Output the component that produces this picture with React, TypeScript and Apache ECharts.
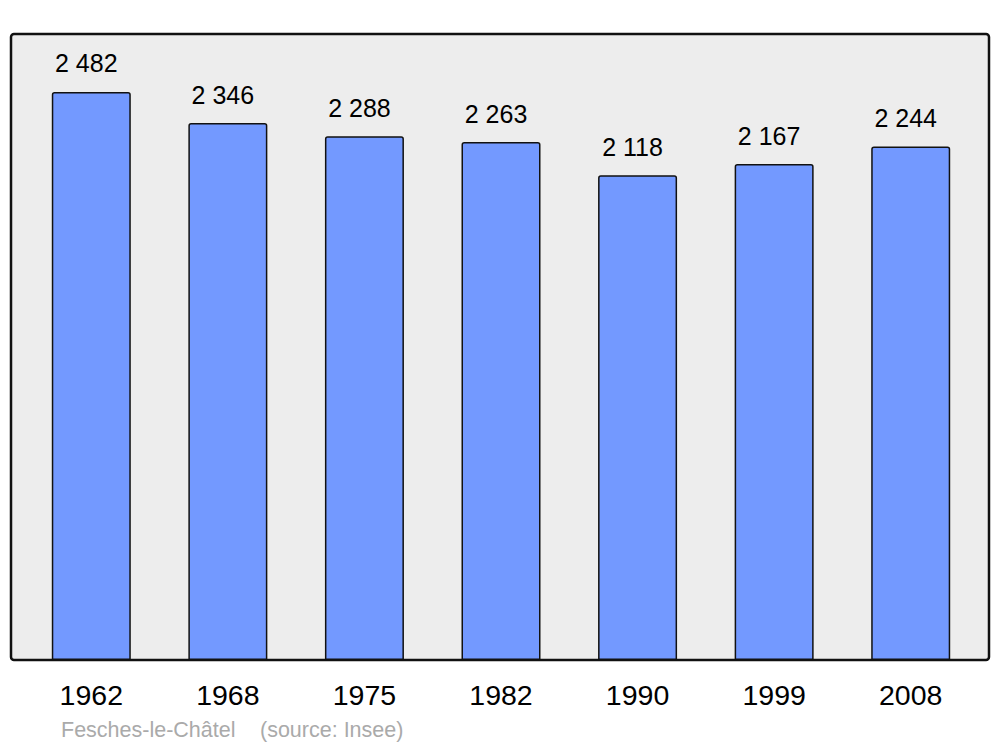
import React, { useEffect, useRef } from "react";
import * as echarts from "echarts";

const years = ["1962", "1968", "1975", "1982", "1990", "1999", "2008"];
const population = [2482, 2346, 2288, 2263, 2118, 2167, 2244];
const footerName = "Fesches-le-Châtel";
const footerSource = "(source: Insee)";

const fmt = (v: number) => {
  const s = String(v);
  return s.replace(/\B(?=(\d{3})+(?!\d))/g, " ");
};

export default function App() {
  const ref = useRef<HTMLDivElement>(null);
  useEffect(() => {
    if (!ref.current) return;
    const chart = echarts.init(ref.current, null, { renderer: "svg" });
    chart.setOption({
      animation: false,
      textStyle: { fontFamily: "Liberation Sans, Arial, sans-serif" },
      graphic: [
        {
          type: "rect",
          z: -10,
          silent: true,
          shape: { x: 11, y: 34, width: 978, height: 626, r: 3 },
          style: { fill: "#ededed", stroke: "#111", lineWidth: 2.5 },
        },
        {
          type: "text",
          left: 61,
          top: 719,
          style: {
            text: footerName,
            fill: "#aaaaaa",
            font: "21.5px 'Liberation Sans', Arial, sans-serif",
          },
        },
        {
          type: "text",
          left: 260,
          top: 719,
          style: {
            text: footerSource,
            fill: "#aaaaaa",
            font: "21.5px 'Liberation Sans', Arial, sans-serif",
          },
        },
      ],
      grid: { left: 23, right: 21, top: 34, bottom: 87, containLabel: false },
      xAxis: {
        type: "category",
        data: years,
        axisLine: { show: false },
        axisTick: { show: false },
        axisLabel: {
          color: "#000",
          fontSize: 28.5,
          margin: 20,
          fontFamily: "Liberation Sans, Arial, sans-serif",
        },
      },
      yAxis: {
        type: "value",
        min: 0,
        max: 2735,
        show: false,
        splitLine: { show: false },
      },
      series: [
        {
          type: "bar",
          data: population,
          barWidth: 79,
          itemStyle: {
            color: "#7399ff",
            borderColor: "#111",
            borderWidth: 1.5,
            borderRadius: [2, 2, 0, 0],
          },
          label: {
            show: true,
            position: "top",
            distance: 16,
            offset: [-5, 0],
            color: "#000",
            fontSize: 25,
            fontFamily: "Liberation Sans, Arial, sans-serif",
            formatter: (p: any) => fmt(p.value),
          },
        },
      ],
    });
    return () => chart.dispose();
  }, []);
  return <div ref={ref} style={{ width: 1000, height: 747, position: "absolute", left: 0, top: 0 }} />;
}
